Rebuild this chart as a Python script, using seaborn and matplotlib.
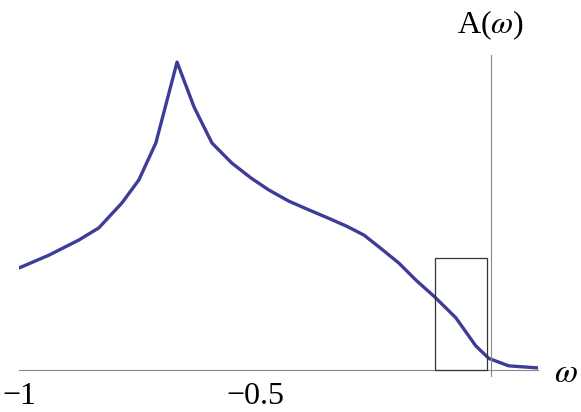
import numpy as np
import pandas as pd
import seaborn as sns
import matplotlib.pyplot as plt
from matplotlib.patches import Rectangle

# spectral function A(w)
omega = [-1.0, -0.936, -0.873, -0.831, -0.782, -0.746, -0.710, -0.665, -0.629,
         -0.591, -0.549, -0.508, -0.470, -0.428, -0.386, -0.343, -0.306, -0.269,
         -0.231, -0.195, -0.159, -0.119, -0.074, -0.032, -0.004, 0.038, 0.102]
A = [0.331, 0.373, 0.422, 0.461, 0.542, 0.617, 0.737, 1.0, 0.854,
     0.737, 0.672, 0.623, 0.584, 0.548, 0.520, 0.492, 0.467, 0.438,
     0.392, 0.347, 0.292, 0.237, 0.169, 0.078, 0.037, 0.013, 0.006]
xticks = [-1.0, -0.5]
xticklabels = ["\u22121", "\u22120.5"]

# window box near the Fermi level
box_x = (-0.119, -0.0085)
box_top = 0.364

df = pd.DataFrame({"omega": omega, "A": A})

sns.set_style("white")
plt.rcParams["font.family"] = ["Liberation Serif", "DejaVu Serif"]
plt.rcParams["mathtext.fontset"] = "stix"
plt.rcParams["text.color"] = "black"
plt.rcParams["xtick.color"] = "black"

fig = plt.figure(figsize=(5.81, 4.12), dpi=100)
ax = fig.add_axes([19 / 581, 36 / 412, 519 / 581, 321 / 412])

sns.lineplot(data=df, x="omega", y="A", ax=ax, color="#3d3d99", linewidth=2.4)

ax.add_patch(Rectangle((box_x[0], 0), box_x[1] - box_x[0], box_top,
                       fill=False, edgecolor="#333333", linewidth=0.9, zorder=3))

ax.set_xlim(-1.0, 0.1)
ax.set_ylim(-0.02, 1.023)

# Mathematica-like axes crossing at the origin
for s in ["top", "right"]:
    ax.spines[s].set_visible(False)
ax.spines["bottom"].set_position(("data", 0))
ax.spines["left"].set_position(("data", 0))
for s in ["bottom", "left"]:
    ax.spines[s].set_color("#888888")
    ax.spines[s].set_linewidth(0.8)
ax.spines["bottom"].set_zorder(1)

ax.set_xticks(xticks)
ax.set_xticklabels(xticklabels, fontsize=23, color="black")
ax.tick_params(axis="x", direction="in", length=5, width=0.8, color="#888888", pad=9)
ax.set_yticks([])
ax.set_xlabel("")
ax.set_ylabel("")

ax.text(0, 1.094, r"A($\omega$)", fontsize=23, ha="center", va="baseline",
        color="black", clip_on=False)
ax.text(0.16, -0.039, r"$\omega$", fontsize=24, ha="center", va="baseline",
        color="black", clip_on=False)

fig.savefig("out.png", dpi=100)
